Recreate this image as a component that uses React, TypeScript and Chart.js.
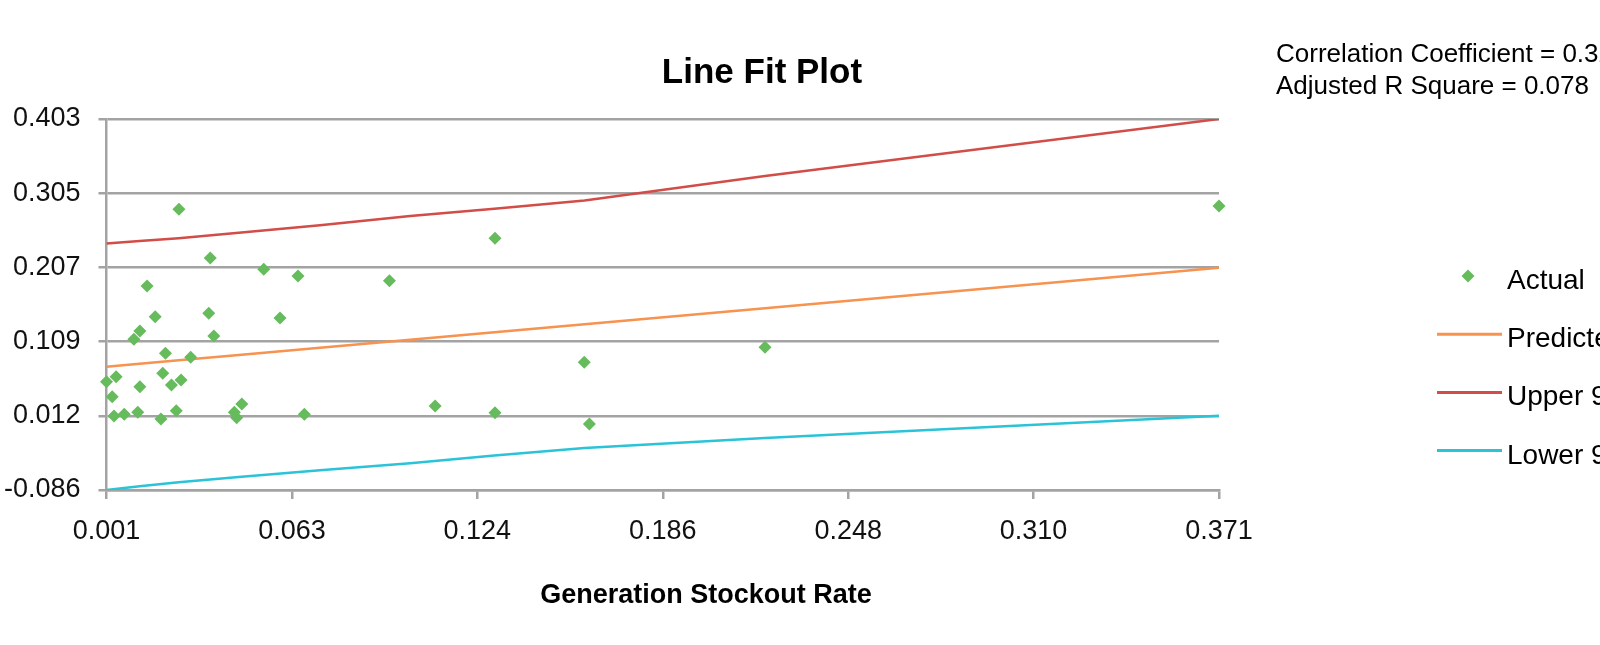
import React, { useEffect, useRef } from 'react';
import { Chart, registerables } from 'chart.js';

Chart.register(...registerables);

const FONT = "'Liberation Sans', Arial, Helvetica, sans-serif";

const titleText = 'Line Fit Plot';
const xAxisTitle = 'Generation Stockout Rate';
const statsLines = ['Correlation Coefficient = 0.322', 'Adjusted R Square = 0.078'];

const seriesLabels = ['Actual', 'Predicted', 'Upper 95%', 'Lower 95%'];
const seriesColors = ['#66bb5c', '#f7924f', '#d24c48', '#2bc3d8'];

const actualX = [
  0.001, 0.0042, 0.0029, 0.0035, 0.0069, 0.0114, 0.0121, 0.0101, 0.0121, 0.0145,
  0.0172, 0.0206, 0.0197, 0.0226, 0.0258, 0.0242, 0.0191, 0.0251, 0.029, 0.0355,
  0.035, 0.0367, 0.0435, 0.0443, 0.046, 0.0533, 0.0587, 0.0647, 0.0668, 0.0951,
  0.1103, 0.1302, 0.1302, 0.1599, 0.1616, 0.22, 0.371,
];
const actualY = [
  0.0567, 0.0633, 0.037, 0.0115, 0.0138, 0.0164, 0.0502, 0.1126, 0.1236, 0.1829,
  0.1424, 0.0942, 0.0678, 0.0524, 0.059, 0.0185, 0.0076, 0.284, 0.0889, 0.2198,
  0.1469, 0.117, 0.0164, 0.0093, 0.0274, 0.2049, 0.1407, 0.1961, 0.0138, 0.1899,
  0.0247, 0.2458, 0.0159, 0.0823, 0.001, 0.1021, 0.2883,
];

const lineX = [0.001, 0.012, 0.025, 0.045, 0.072, 0.102, 0.13, 0.16, 0.22, 0.371];
const predictedY = [0.0765, 0.0804, 0.085, 0.092, 0.1015, 0.112, 0.122, 0.1325, 0.1535, 0.207];
const upperY = [0.239, 0.2422, 0.2458, 0.253, 0.263, 0.275, 0.2846, 0.2955, 0.328, 0.403];
const lowerY = [-0.086, -0.0812, -0.0758, -0.069, -0.06, -0.0508, -0.0406, -0.0305, -0.0176, 0.012];

const xTicks = [0.001, 0.0627, 0.1243, 0.186, 0.2477, 0.3093, 0.371];
const xTickLabels = ['0.001', '0.063', '0.124', '0.186', '0.248', '0.310', '0.371'];
const yTicks = [-0.086, 0.0118, 0.1096, 0.2074, 0.3052, 0.403];
const yTickLabels = ['-0.086', '0.012', '0.109', '0.207', '0.305', '0.403'];

const GRID = '#a3a3a3';

const extraText = {
  id: 'extraText',
  afterDraw(chart: any) {
    const ctx = chart.ctx as CanvasRenderingContext2D;
    ctx.save();
    ctx.fillStyle = '#000';
    ctx.textBaseline = 'alphabetic';
    ctx.textAlign = 'center';
    ctx.font = `bold 35px ${FONT}`;
    ctx.fillText(titleText, 762, 83);
    ctx.font = `bold 27px ${FONT}`;
    ctx.fillText(xAxisTitle, 706, 603);
    ctx.textAlign = 'left';
    ctx.font = `26px ${FONT}`;
    statsLines.forEach((t, i) => ctx.fillText(t, 1276, 62 + i * 31.6));

    // legend
    ctx.font = `28px ${FONT}`;
    chart.data.datasets.forEach((ds: any, i: number) => {
      const cy = 276 + i * 58.2;
      if (i === 0) {
        const r = 6.5;
        ctx.fillStyle = ds.backgroundColor;
        ctx.beginPath();
        ctx.moveTo(1468 - r, cy);
        ctx.lineTo(1468, cy - r);
        ctx.lineTo(1468 + r, cy);
        ctx.lineTo(1468, cy + r);
        ctx.closePath();
        ctx.fill();
      } else {
        ctx.strokeStyle = ds.borderColor;
        ctx.lineWidth = 3;
        ctx.beginPath();
        ctx.moveTo(1437, cy);
        ctx.lineTo(1502, cy);
        ctx.stroke();
      }
      ctx.fillStyle = '#000';
      ctx.fillText(ds.label, 1507, cy + 13);
    });
    ctx.restore();
  },
};

export default function App() {
  const ref = useRef<HTMLCanvasElement | null>(null);

  useEffect(() => {
    if (!ref.current) return;
    const toPts = (xs: number[], ys: number[]) => xs.map((x, i) => ({ x, y: ys[i] }));
    const lineDs = (label: string, color: string, ys: number[]) => ({
      label,
      data: toPts(lineX, ys),
      showLine: true,
      borderColor: color,
      backgroundColor: color,
      borderWidth: 2.5,
      pointRadius: 0,
      pointHoverRadius: 0,
      tension: 0,
      order: 2,
    });
    const chart = new Chart(ref.current, {
      type: 'scatter',
      data: {
        datasets: [
          {
            label: seriesLabels[0],
            data: toPts(actualX, actualY),
            pointStyle: 'rectRot',
            pointRadius: 6.5,
            pointBorderWidth: 0,
            backgroundColor: seriesColors[0],
            borderColor: seriesColors[0],
            showLine: false,
            clip: false,
            order: 1,
          } as any,
          lineDs(seriesLabels[1], seriesColors[1], predictedY),
          lineDs(seriesLabels[2], seriesColors[2], upperY),
          lineDs(seriesLabels[3], seriesColors[3], lowerY),
        ],
      },
      options: {
        responsive: false,
        animation: false,
        layout: { padding: { left: 0, top: 119, right: 381, bottom: 0 } },
        plugins: {
          legend: { display: false },
          title: { display: false },
          tooltip: { enabled: false },
        },
        scales: {
          x: {
            type: 'linear',
            min: 0.001,
            max: 0.371,
            afterBuildTicks: (scale: any) => {
              scale.ticks = xTicks.map((v) => ({ value: v }));
            },
            afterFit: (scale: any) => {
              scale.height = 155;
            },
            grid: {
              drawOnChartArea: false,
              drawTicks: true,
              tickLength: 9,
              color: GRID,
              lineWidth: 2.5,
            },
            border: { display: true, color: GRID, width: 2.5 },
            ticks: {
              color: '#111',
              font: { family: FONT, size: 27 },
              padding: 16,
              maxRotation: 0,
              autoSkip: false,
              callback: (_v: any, i: number) => xTickLabels[i],
            },
          },
          y: {
            type: 'linear',
            min: -0.086,
            max: 0.403,
            afterBuildTicks: (scale: any) => {
              scale.ticks = yTicks.map((v) => ({ value: v }));
            },
            afterFit: (scale: any) => {
              scale.width = 106.5;
            },
            grid: {
              drawOnChartArea: true,
              drawTicks: true,
              tickLength: 8,
              color: GRID,
              lineWidth: 2.5,
            },
            border: { display: true, color: GRID, width: 2.5 },
            ticks: {
              color: '#111',
              font: { family: FONT, size: 27 },
              padding: 18,
              autoSkip: false,
              callback: (_v: any, i: number) => yTickLabels[i],
            },
          },
        },
      },
      plugins: [extraText],
    });
    return () => chart.destroy();
  }, []);

  return (
    <div style={{ position: 'fixed', left: 0, top: 0, width: 1600, height: 645, background: '#fff' }}>
      <canvas ref={ref} width={1600} height={645} />
    </div>
  );
}
